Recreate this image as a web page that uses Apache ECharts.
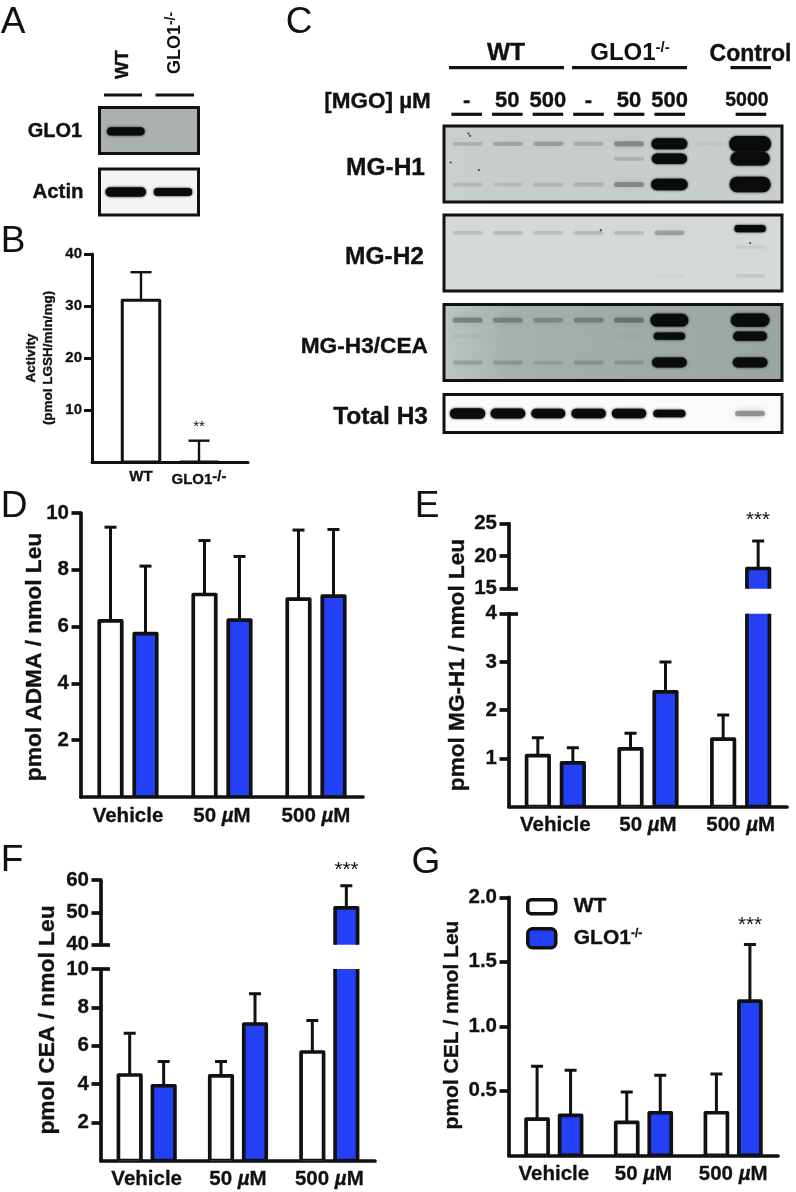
<!DOCTYPE html>
<html><head><meta charset="utf-8">
<style>html,body{margin:0;padding:0;background:#fff}#c{width:796px;height:1192px}</style>
<script src="https://cdn.jsdelivr.net/npm/echarts@6/dist/echarts.min.js"></script>
</head><body><div id="c"></div>
<script>
// ---------- DATA ----------
const doseCats = ['Vehicle', '50 µM', '500 µM'];
const activityCats = ['WT', 'GLO1-/-'];
const activityMean = [31.1, 0];
const activityTop = [36.5, 4.1];

const admaWT = [6.2, 7.13, 6.97];
const admaWTTop = [9.5, 9.03, 9.4];
const admaKO = [5.75, 6.23, 7.07];
const admaKOTop = [8.13, 8.47, 9.42];

const mgh1WT = [1.06, 1.2, 1.4];
const mgh1WTTop = [1.43, 1.52, 1.9];
const mgh1KO = [0.91, 2.38, 18.1];
const mgh1KOTop = [1.22, 3.0, 22.3];

const ceaWT = [4.47, 4.43, 5.67];
const ceaWTTop = [6.65, 5.18, 7.32];
const ceaKO = [3.91, 7.13, 51.4];
const ceaKOTop = [5.18, 8.71, 58.2];

const celWT = [0.28, 0.255, 0.33];
const celWTTop = [0.69, 0.49, 0.63];
const celKO = [0.31, 0.33, 1.195];
const celKOTop = [0.66, 0.62, 1.635];

const laneLabels = ['-', '50', '500', '-', '50', '500', '', '5000'];

// blot band intensities by lane (arbitrary densitometry units)
const glo1Band = [1.0, 0];
const actinBand = [1.0, 0.85];
const h1Top = [0.16, 0.22, 0.25, 0.18, 0.36, 1.0, 0.04, 1.45];
const h1Mid = [0, 0, 0, 0, 0.16, 0.95, 0, 1.25];
const h1Bot = [0.12, 0.1, 0.13, 0.16, 0.36, 1.05, 0, 1.4];
const h2Main = [0.14, 0.16, 0.13, 0.16, 0.16, 0.28, 0, 0];
const h2Ctrl = [0, 0, 0, 0, 0, 0, 0, 0.65];
const h2Low1 = [0, 0, 0, 0, 0, 0, 0, 0.07];
const h2Low2 = [0, 0, 0, 0, 0, 0.03, 0, 0.09];
const h3Top = [0.36, 0.33, 0.28, 0.33, 0.4, 1.15, 0, 1.2];
const h3Mid = [0.05, 0, 0, 0, 0.03, 0.65, 0, 0.85];
const h3Bot = [0.2, 0.2, 0.13, 0.2, 0.18, 0.9, 0, 0.9];
const totalH3 = [0.95, 0.9, 0.85, 0.88, 0.88, 0.7, 0, 0.42];
// stray specks on the membranes: [lane, relative height]
const h1Specks = [[0.02, 0.1], [0.06, 0.13], [-0.42, 0.48], [0.28, 0.58]];
const h2Specks = [[7.0, 0.37], [3.3, 0.2]];

// ---------- STYLE ----------
const FONT = '"Liberation Sans", Arial, sans-serif';
const INK = '#111';
const BLUE = '#2340f7';

const grid = [], xAxis = [], yAxis = [], series = [], graphic = [];

function text(str, x, y, o) {
  o = o || {};
  const bold = (o.weight || 'bold') === 'bold';
  graphic.push({
    type: 'text', x: x, y: y, rotation: o.rot || 0, z: 20,
    style: {
      text: str, fill: INK, font: (o.weight || 'bold') + ' ' + (o.size || 20) + 'px ' + FONT,
      align: o.align || 'center', verticalAlign: 'middle', lineHeight: o.lh,
      stroke: bold && !o.rich ? INK : null, lineWidth: bold && !o.rich ? 0.35 : 0,
      rich: o.rich
    }
  });
}
function rule(x1, x2, y, w) {
  graphic.push({ type: 'line', z: 20, shape: { x1: x1, y1: y, x2: x2, y2: y }, style: { stroke: INK, lineWidth: w || 3.2 } });
}
function supRich(size, sup) {
  return { sup: { font: 'bold ' + sup + 'px ' + FONT, fill: INK, padding: [0, 0, size * 0.45, 0] } };
}

function barRender(off, fill, o) {
  return function (p, api) {
    const c = api.value(0), v = api.value(1), e = api.value(2);
    const base = api.coord([c, 0]), top = api.coord([c, v]), err = api.coord([c, e]);
    const x = base[0] + off;
    return {
      type: 'group', children: [
        { type: 'line', shape: { x1: x, y1: top[1], x2: x, y2: err[1] }, style: { stroke: INK, lineWidth: o.errW, fill: null } },
        { type: 'line', shape: { x1: x - o.cap / 2, y1: err[1], x2: x + o.cap / 2, y2: err[1] }, style: { stroke: INK, lineWidth: o.errW, fill: null } },
        { type: 'rect', shape: { x: x - o.bw / 2, y: top[1], width: o.bw, height: base[1] - top[1] }, style: { fill: fill, stroke: INK, lineWidth: o.sw, lineJoin: 'round' } }
      ]
    };
  };
}
function barSeries(name, mean, tops, g, off, fill, o) {
  series.push({
    type: 'custom', name: name, xAxisIndex: g, yAxisIndex: g, clip: true, z: 3,
    itemStyle: { color: fill, borderColor: INK },
    renderItem: barRender(off, fill, o),
    encode: { x: 0, y: 1 },
    data: mean.map((m, i) => [i, m, tops[i]])
  });
}
const muLabel = v => v.replace('µ', '{i|µ}');
function addAxes(rect, yMin, yMax, ticks, o) {
  const g = grid.length;
  grid.push({ left: rect.l, width: rect.w, top: rect.t, height: rect.h });
  const xs = o.xSize || 20.5;
  xAxis.push({
    gridIndex: g, type: 'category', data: o.cats || doseCats,
    axisLine: { show: o.xLine !== false, onZero: false, lineStyle: { color: INK, width: o.sw } },
    axisTick: { show: false },
    axisLabel: o.xLabel === false ? { show: false } : {
      interval: 0, margin: o.xMargin || 8.5, color: INK, fontFamily: FONT, fontWeight: 'bold', fontSize: xs,
      textBorderColor: INK, textBorderWidth: 0.3,
      formatter: o.xFmt || muLabel,
      rich: o.xRich || { i: { fontStyle: 'italic', fontWeight: 'bold', fontFamily: FONT, fontSize: xs, color: INK } }
    }
  });
  yAxis.push({
    gridIndex: g, type: 'value', min: yMin, max: yMax, splitLine: { show: false },
    axisLine: { show: o.yLine !== false, lineStyle: { color: INK, width: o.sw } },
    axisTick: { show: o.yLine !== false, length: o.tick || 9.5, customValues: ticks, lineStyle: { color: INK, width: o.sw } },
    axisLabel: {
      show: o.yLine !== false, margin: o.yMargin || 12, customValues: ticks, color: INK, fontFamily: FONT, fontWeight: 'bold', fontSize: o.ySize || 20.5,
      textBorderColor: INK, textBorderWidth: 0.3,
      formatter: o.yFmt
    }
  });
  return g;
}
function innerTick(g, val, o) {
  // short tick on the plot side of the broken axis
  const k = yAxis.length;
  grid.push(Object.assign({}, grid[g]));
  xAxis.push({ gridIndex: k, type: 'category', data: doseCats, show: false });
  yAxis.push({
    gridIndex: k, type: 'value', min: yAxis[g].min, max: yAxis[g].max, splitLine: { show: false },
    axisLine: { show: false }, axisLabel: { show: false },
    axisTick: { show: true, inside: true, length: 9, customValues: [val], lineStyle: { color: INK, width: o.sw } }
  });
}
function twoBars(g, wt, wtTop, ko, koTop, o) {
  barSeries('WT', wt, wtTop, g, -o.gap / 2, '#fff', o);
  barSeries('GLO1-/-', ko, koTop, g, o.gap / 2, BLUE, o);
}

// ---------- panels D-G ----------
const barOpt = { sw: 3.7, errW: 3, cap: 12, bw: 22.5, gap: 35 };

// D
{
  const g = addAxes({ l: 81, w: 282, t: 513, h: 284 }, 0, 10, [2, 4, 6, 8, 10], barOpt);
  twoBars(g, admaWT, admaWTTop, admaKO, admaKOTop, barOpt);
}
// E (broken axis)
{
  const o = barOpt;
  const hi = addAxes({ l: 509, w: 278, t: 523.5, h: 65.2 }, 15, 25, [15, 20, 25], { sw: 3.7, xLine: false, xLabel: false });
  const lo = addAxes({ l: 509, w: 278, t: 613.7, h: 193 }, 0, 4, [1, 2, 3, 4], barOpt);
  twoBars(hi, mgh1WT, mgh1WTTop, mgh1KO, mgh1KOTop, o);
  twoBars(lo, mgh1WT, mgh1WTTop, mgh1KO, mgh1KOTop, o);
  innerTick(hi, 15, o); innerTick(lo, 4, o);
}
// F (broken axis)
{
  const o = Object.assign({}, barOpt, { gap: 34 });
  const hi = addAxes({ l: 101, w: 274, t: 880, h: 64.7 }, 40, 60, [40, 50, 60], { sw: 3.7, xLine: false, xLabel: false });
  const lo = addAxes({ l: 101, w: 274, t: 969, h: 191.7 }, 0, 10, [2, 4, 6, 8, 10], barOpt);
  twoBars(hi, ceaWT, ceaWTTop, ceaKO, ceaKOTop, o);
  twoBars(lo, ceaWT, ceaWTTop, ceaKO, ceaKOTop, o);
  innerTick(hi, 40, o); innerTick(lo, 10, o);
}
// G
{
  const o = Object.assign({}, barOpt, { gap: 33.5, bw: 22 });
  const g = addAxes({ l: 509, w: 269, t: 897.3, h: 258 }, 0, 2, [0.5, 1, 1.5, 2],
    Object.assign({}, barOpt, { yFmt: v => v.toFixed(1) }));
  twoBars(g, celWT, celWTTop, celKO, celKOTop, o);
}
// B
{
  const sw = 3;
  addAxes({ l: 92, w: 156, t: 254, h: 208 }, 0, 40, [10, 20, 30, 40],
    { sw: sw, xLabel: false, ySize: 15, tick: 8, yMargin: 10, cats: [''] });
  const g = addAxes({ l: 112, w: 116, t: 254, h: 208 }, 0, 40, [], {
    sw: sw, cats: activityCats, xLine: false, yLine: false, xSize: 15, xMargin: 7,
    xFmt: v => v.replace('-/-', '{sup|-/-}'),
    xRich: supRich(15, 10)
  });
  const o = { sw: sw, errW: 2.4, cap: 21, bw: 37.5 };
  barSeries('activity', activityMean, activityTop, g, 0, '#fff', o);
}

// ---------- blots ----------
function bandRender(hs, ws) {
  return function (p, api) {
    const i = api.value(2);
    if (i <= 0) return null;
    const c = api.coord([api.value(0), api.value(1)]);
    const strong = i >= 0.5;
    const h = (strong ? 11 * i : 3 + 6 * i) * hs;
    const w = (strong ? 36 + (i - 1) * 13 : 30) * ws;
    const fill = strong ? '#0a0c0c' : 'rgba(55,65,65,' + Math.min(0.85, i * 1.2).toFixed(2) + ')';
    return {
      type: 'rect', shape: { x: c[0] - w / 2, y: c[1] - h / 2, width: w, height: h, r: h / 2 },
      style: { fill: fill, shadowBlur: strong ? 2.5 : 7, shadowColor: fill }
    };
  };
}
function blot(rect, bg, xMin, xMax, rows, hs, ws, specks) {
  const g = grid.length;
  grid.push({ left: rect.l, width: rect.w, top: rect.t, height: rect.h, show: true, backgroundColor: bg, borderColor: INK, borderWidth: 3 });
  xAxis.push({ gridIndex: g, type: 'value', min: xMin, max: xMax, show: false, splitLine: { show: false } });
  yAxis.push({ gridIndex: g, type: 'value', min: 0, max: 1, inverse: true, show: false, splitLine: { show: false } });
  const data = [];
  rows.forEach(r => r.vals.forEach((v, lane) => data.push([lane, r.pos, v])));
  series.push({
    type: 'custom', name: 'bands', xAxisIndex: g, yAxisIndex: g, clip: true, z: 4,
    renderItem: bandRender(hs || 1, ws || 1), encode: { x: 0, y: 1 }, data: data
  });
  if (specks) series.push({
    type: 'scatter', name: 'specks', xAxisIndex: g, yAxisIndex: g, z: 4, symbolSize: 2.2, silent: true,
    itemStyle: { color: '#222' }, data: specks
  });
}
const grad = (a, b, c) => new echarts.graphic.LinearGradient(0, 0, 1, 0, [{ offset: 0, color: a }, { offset: 0.2, color: b }, { offset: 1, color: c }]);

blot({ l: 99.5, w: 99, t: 107.5, h: 46 }, '#aab1ae', -0.556, 1.54, [{ pos: 0.52, vals: glo1Band }], 0.75, 1.05);
blot({ l: 99.5, w: 99, t: 169, h: 46 }, '#f4f4f4', -0.556, 1.54, [{ pos: 0.5, vals: actinBand }], 0.85, 1.13);

const cx0 = -0.584, cx1 = 7.79;
blot({ l: 444, w: 338, t: 126, h: 76 }, grad('#c9d0cd', '#c6cdca', '#c8cfcc'), cx0, cx1,
  [{ pos: 0.235, vals: h1Top }, { pos: 0.43, vals: h1Mid }, { pos: 0.77, vals: h1Bot }], 1, 1, h1Specks);
blot({ l: 444, w: 338, t: 215, h: 76 }, '#d5dad7', cx0, cx1,
  [{ pos: 0.235, vals: h2Main }, { pos: 0.18, vals: h2Ctrl }, { pos: 0.42, vals: h2Low1 }, { pos: 0.8, vals: h2Low2 }], 1, 1, h2Specks);
blot({ l: 444, w: 338, t: 304.5, h: 76 }, grad('#bcc7c5', '#a6b1af', '#9aa5a3'), cx0, cx1,
  [{ pos: 0.206, vals: h3Top }, { pos: 0.417, vals: h3Mid }, { pos: 0.764, vals: h3Bot }]);
blot({ l: 444, w: 338, t: 394.5, h: 38 }, '#fbfbfb', cx0, cx1, [{ pos: 0.5, vals: totalH3 }]);

// ---------- panel letters ----------
[['A', 13, 23], ['B', 13, 242], ['C', 299, 23], ['D', 14, 507], ['E', 427, 507], ['F', 12, 861], ['G', 426, 863]].forEach(a =>
  text(a[0], a[1], a[2], { size: 37, weight: 'normal' }));

// ---------- panel A text ----------
text('WT', 123, 64.5, { size: 18.5, rot: Math.PI / 2 });
text('GLO1{sup|-/-}', 175, 43, { size: 18, rot: Math.PI / 2, rich: supRich(15, 14) });
rule(104, 142, 95, 3.2); rule(155.5, 194, 95, 3.2);
text('GLO1', 55, 131.5, { size: 20 });
text('Actin', 58, 192.5, { size: 20.5 });

// ---------- panel B text ----------
text('Activity\n(pmol LGSH/min/mg)', 39.5, 358, { size: 13.5, rot: Math.PI / 2, lh: 17 });
text('**', 199, 427, { size: 15, weight: 'normal' });

// ---------- panel C text ----------
text('WT', 506, 53, { size: 24.5 });
text('GLO1{sup|-/-}', 630, 53, { size: 24, rich: supRich(24, 15) });
text('Control', 750.5, 55, { size: 23 });
rule(449, 564, 67.7); rule(572, 687, 67.7); rule(730.5, 771, 67.7);
text('[MGO] µM', 377.5, 101.5, { size: 22.5 });
const laneX = i => 466.7 + i * 40.6;
laneLabels.forEach((s, i) => {
  if (!s) return;
  const x = laneX(i);
  text(s, s === '5000' ? x - 4 : x, 101, { size: s === '5000' ? 19.5 : 22 });
  rule(x - 15.3, x + 15.3, 114.3);
});
text('MG-H1', 425, 168, { size: 24.5, align: 'right' });
text('MG-H2', 424, 257, { size: 24.5, align: 'right' });
text('MG-H3/CEA', 428, 347, { size: 22.7, align: 'right' });
text('Total H3', 428, 417, { size: 24.5, align: 'right' });

// ---------- y titles and stars ----------
text('pmol ADMA / nmol Leu', 35, 657, { size: 22.7, rot: Math.PI / 2 });
text('pmol MG-H1 / nmol Leu', 458, 665, { size: 22.6, rot: Math.PI / 2 });
text('pmol CEA / nmol Leu', 48, 1020, { size: 22.8, rot: Math.PI / 2 });
text('pmol CEL / nmol Leu', 452, 1025, { size: 21, rot: Math.PI / 2 });
text('***', 758, 520, { size: 20.5, weight: 'normal' });
text('***', 346.5, 870, { size: 20.5, weight: 'normal' });
text('***', 750, 925, { size: 20.5, weight: 'normal' });

const legendText = {
  left: 521, itemGap: 0, selectedMode: false, icon: 'roundRect',
  textStyle: { color: INK, fontFamily: FONT, fontWeight: 'bold', fontSize: 21, padding: [0, 0, 0, 13], textBorderColor: INK, textBorderWidth: 0.3,
    rich: { sup: { fontFamily: FONT, fontWeight: 'bold', fontSize: 12, color: INK, padding: [0, 0, 9, 0] } } },
  formatter: n => n.replace('-/-', '{sup|-/-}')
};
const legend = [
  Object.assign({}, legendText, { top: 891, itemWidth: 28, itemHeight: 14, data: [{ name: 'WT', itemStyle: { color: '#fff', borderColor: INK, borderWidth: 3.5 } }] }),
  Object.assign({}, legendText, { top: 922, itemWidth: 28, itemHeight: 19, data: [{ name: 'GLO1-/-', itemStyle: { color: BLUE, borderColor: INK, borderWidth: 3.5 } }] })
];

const chart = echarts.init(document.getElementById('c'), null, { renderer: 'canvas', width: 796, height: 1192 });
chart.setOption({ animation: false, backgroundColor: '#fff', legend, grid, xAxis, yAxis, series, graphic: { elements: graphic } });
</script></body></html>
